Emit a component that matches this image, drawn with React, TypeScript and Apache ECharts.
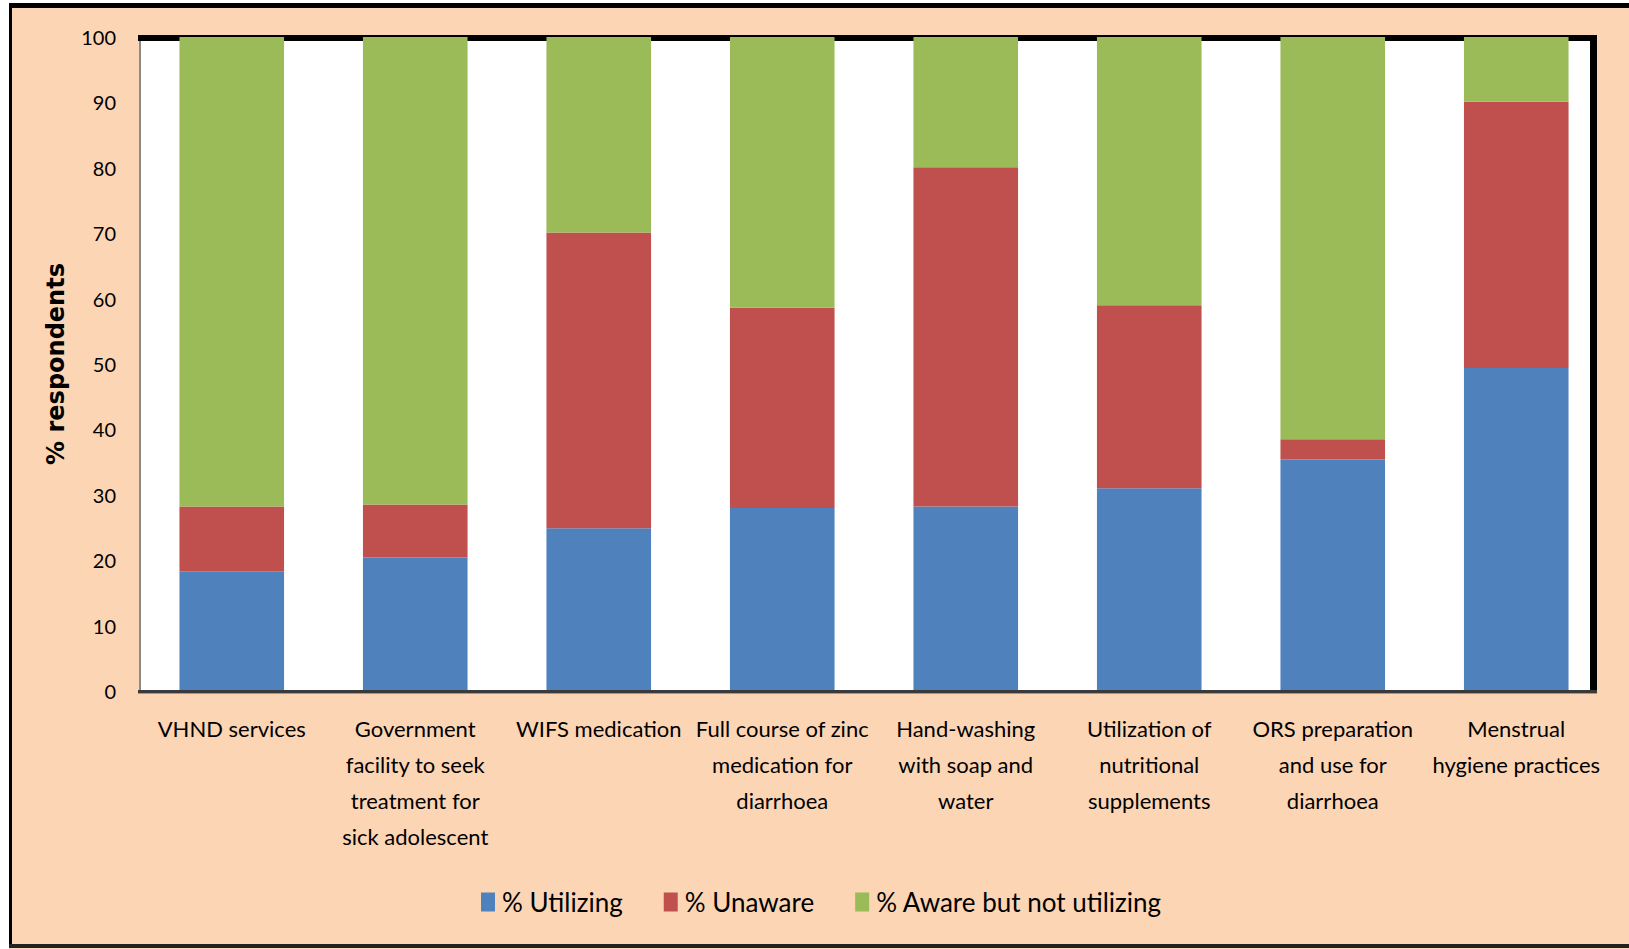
import React, { useEffect, useRef } from "react";
import * as echarts from "echarts";

const categories = [
  "VHND services",
  "Government\nfacility to seek\ntreatment for\nsick adolescent",
  "WIFS medication",
  "Full course of zinc\nmedication for\ndiarrhoea",
  "Hand-washing\nwith soap and\nwater",
  "Utilization of\nnutritional\nsupplements",
  "ORS preparation\nand use for\ndiarrhoea",
  "Menstrual\nhygiene practices",
];

const utilizing = [18.3, 20.4, 24.9, 28.0, 28.2, 31.0, 35.4, 49.4];
const unaware = [9.9, 8.1, 45.2, 30.6, 51.9, 28.0, 3.1, 40.7];
const awareNotUtilizing = [71.8, 71.5, 29.9, 41.4, 19.9, 41.0, 61.5, 9.9];

const seriesNames = ["% Utilizing", "% Unaware", "% Aware but not utilizing"];
const seriesColors = ["#4F81BD", "#C0504D", "#9BBB59"];

const yTicks = { min: 0, max: 100, interval: 10 };

export default function App() {
  const ref = useRef<HTMLDivElement>(null);

  useEffect(() => {
    document.body.style.margin = "0";
    if (!ref.current) return;
    const chart = echarts.init(ref.current, null, { renderer: "svg" });
    const font = "Lato, 'Noto Sans', sans-serif";
    const values = [utilizing, unaware, awareNotUtilizing];

    chart.setOption({
      animation: false,
      backgroundColor: "#FCD5B5",
      graphic: [
        { type: "rect", shape: { x: 0, y: 0, width: 1629, height: 3 }, style: { fill: "#fff" }, z: 0 },
        { type: "rect", shape: { x: 0, y: 0, width: 9, height: 949 }, style: { fill: "#fff" }, z: 0 },
        { type: "rect", shape: { x: 9, y: 3, width: 1620, height: 5 }, style: { fill: "#000" }, z: 1 },
        { type: "rect", shape: { x: 9, y: 3, width: 3, height: 945 }, style: { fill: "#000" }, z: 1 },
        { type: "rect", shape: { x: 9, y: 944, width: 1620, height: 4 }, style: { fill: "#222" }, z: 1 },
        // plot area background and frame
        { type: "rect", shape: { x: 140, y: 37, width: 1452, height: 654 }, style: { fill: "#fff" }, z: 0 },
        { type: "rect", shape: { x: 138, y: 35, width: 1459, height: 6 }, style: { fill: "#000" }, z: 1 },
        { type: "rect", shape: { x: 1590, y: 35, width: 7, height: 658 }, style: { fill: "#000" }, z: 1 },
        { type: "rect", shape: { x: 138, y: 690, width: 1459, height: 3 }, style: { fill: "#3a3a3a" }, z: 5 },
        { type: "rect", shape: { x: 138, y: 693, width: 1459, height: 1 }, style: { fill: "#9a9a9a" }, z: 5 },
      ],
      grid: {
        left: 140,
        top: 37,
        width: 1468,
        height: 654,
        show: false,
      },
      legend: {
        data: seriesNames,
        left: 476,
        top: 884,
        icon: "rect",
        itemWidth: 14,
        itemHeight: 19,
        itemGap: 41,
        textStyle: { fontFamily: font, fontSize: 26, color: "#000", padding: [0, 0, 0, 2] },
      },
      xAxis: {
        type: "category",
        data: categories,
        axisTick: { show: false },
        axisLine: { show: false },
        axisLabel: {
          interval: 0,
          margin: 20,
          fontFamily: font,
          fontSize: 22,
          lineHeight: 35.8,
          color: "#000",
          align: "center",
        },
      },
      yAxis: {
        type: "value",
        min: yTicks.min,
        max: yTicks.max,
        interval: yTicks.interval,
        name: "% respondents",
        nameLocation: "middle",
        nameGap: 72,
        nameTextStyle: {
          fontFamily: "'DejaVu Sans', sans-serif",
          fontWeight: "bold",
          fontSize: 24,
          color: "#000",
        },
        splitLine: { show: false },
        axisTick: { show: false },
        axisLine: { show: true, lineStyle: { color: "#8a8a8a", width: 2 } },
        axisLabel: {
          margin: 24,
          fontFamily: font,
          fontSize: 20,
          color: "#000",
        },
      },
      series: values.map((v, i) => ({
        name: seriesNames[i],
        type: "bar",
        stack: "total",
        data: v,
        barWidth: "57%",
        itemStyle: { color: seriesColors[i] },
        z: 3,
      })),
    });

    return () => chart.dispose();
  }, []);

  return (
    <div
      ref={ref}
      style={{ position: "absolute", left: 0, top: 0, width: 1629, height: 949 }}
    />
  );
}
